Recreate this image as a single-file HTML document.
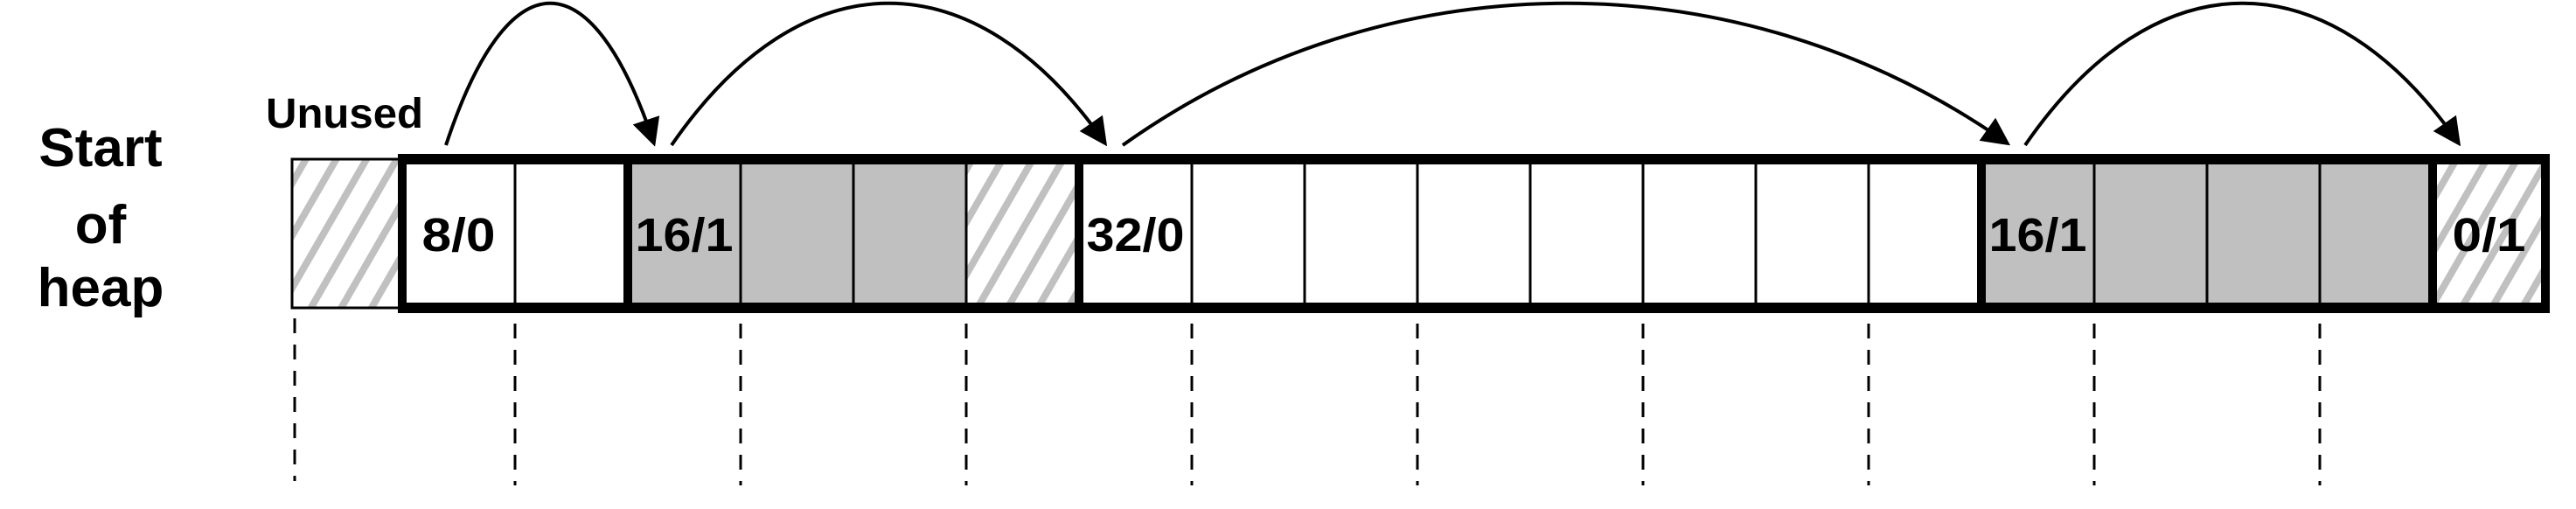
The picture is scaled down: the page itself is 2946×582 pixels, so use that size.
<!DOCTYPE html>
<html><head><meta charset="utf-8">
<style>
html,body{margin:0;padding:0;background:#fff;}
svg{display:block;}
text{font-family:"Liberation Sans",sans-serif;font-weight:bold;fill:#000;}
</style></head>
<body>
<svg id="chart" width="2946" height="582" viewBox="0 0 2946 582" xmlns="http://www.w3.org/2000/svg">
<defs>
<pattern id="hatch" patternUnits="userSpaceOnUse" width="30" height="30" patternTransform="rotate(30)">
<rect width="30" height="30" fill="#fff"/>
<rect x="0" y="0" width="8" height="30" fill="#c0c0c0"/>
</pattern>
<marker id="arrow" markerWidth="10" markerHeight="10" refX="9" refY="5" orient="auto" markerUnits="userSpaceOnUse" viewBox="0 0 10 10" style="overflow:visible">
<path d="M0,0 L10,5 L0,10 z" transform="scale(3.2) translate(-6,-3.4)" fill="#000"/>
</marker>
</defs>
<text x="115" y="190" font-size="62" text-anchor="middle">Start</text>
<text x="115" y="278" font-size="62" text-anchor="middle">of</text>
<text x="115" y="350" font-size="62" text-anchor="middle">heap</text>
<text x="304" y="146" font-size="48" textLength="180" lengthAdjust="spacingAndGlyphs">Unused</text>
<rect x="334" y="182" width="126" height="170" fill="url(#hatch)" stroke="#000" stroke-width="3"/>
<g id="cells"></g>
<g id="dashes"></g>
<g id="arrows"></g>
</svg>
<script>
// cell kinds: w = free(white), g = allocated(gray), h = hatched padding
const cellKinds = ["w","w","g","g","g","h","w","w","w","w","w","w","w","w","g","g","g","g","h"];
const cellLabels = ["8/0","","16/1","","","","32/0","","","","","","","","16/1","","","","0/1"];
const blockStarts = [0,2,6,14,18];
const dashIndices = [-1,1,3,5,7,9,11,13,15,17];
const arrowLinks = [[0,2],[2,6],[6,14],[14,18]];

const NS="http://www.w3.org/2000/svg";
const X0=460, CW=129, TOPY=182, BOTY=352;
const xAt=i=>X0+i*CW;
const cg=document.getElementById('cells');
function mk(tag,attrs,parent){const e=document.createElementNS(NS,tag);for(const k in attrs)e.setAttribute(k,attrs[k]);parent.appendChild(e);return e;}
const fills={w:"#fff",g:"#c0c0c0",h:"url(#hatch)"};
cellKinds.forEach((k,i)=>{
  const r=mk('rect',{x:xAt(i),y:TOPY,width:CW,height:BOTY-TOPY,fill:fills[k],stroke:"#000","stroke-width":3},cg);
  
  
  if(cellLabels[i]){
    const len=28*cellLabels[i].length;
    const t=mk('text',{x:xAt(i)+CW/2-len/2,y:(TOPY+BOTY)/2+20,"font-size":54,textLength:len,lengthAdjust:"spacingAndGlyphs"},cg);
    t.textContent=cellLabels[i];
    
    
  }
});
const n=cellKinds.length;
const topBorder=mk('line',{x1:xAt(0)-5,y1:TOPY,x2:xAt(n)+5,y2:TOPY,stroke:"#000","stroke-width":12},cg);


const botBorder=mk('line',{x1:xAt(0)-5,y1:BOTY,x2:xAt(n)+5,y2:BOTY,stroke:"#000","stroke-width":12},cg);


blockStarts.concat([n]).forEach(i=>{
  const l=mk('line',{x1:xAt(i),y1:TOPY-6,x2:xAt(i),y2:BOTY+6,stroke:"#000","stroke-width":10},cg);
  
  
});
const dg=document.getElementById('dashes');
dashIndices.forEach(i=>{
  const x=i<0?337:xAt(i);
  const l=mk('line',{x1:x,y1:i<0?364:370,x2:x,y2:i<0?550:555,stroke:"#000","stroke-width":3,"stroke-dasharray":"17 13"},dg);
  
  
});
const ag=document.getElementById('arrows');
arrowLinks.forEach(([a,b])=>{
  const x1=xAt(a)+50, x2=xAt(b)+30, y1=166, y2=164;
  const span=x2-x1;
  const d=`M${x1},${y1} C${x1+span*0.3},-50 ${x2-span*0.3},-50 ${x2},${y2}`;
  const p=mk('path',{d:d,fill:"none",stroke:"#000","stroke-width":4,"marker-end":"url(#arrow)"},ag);
  
  
});
</script>
</body></html>
